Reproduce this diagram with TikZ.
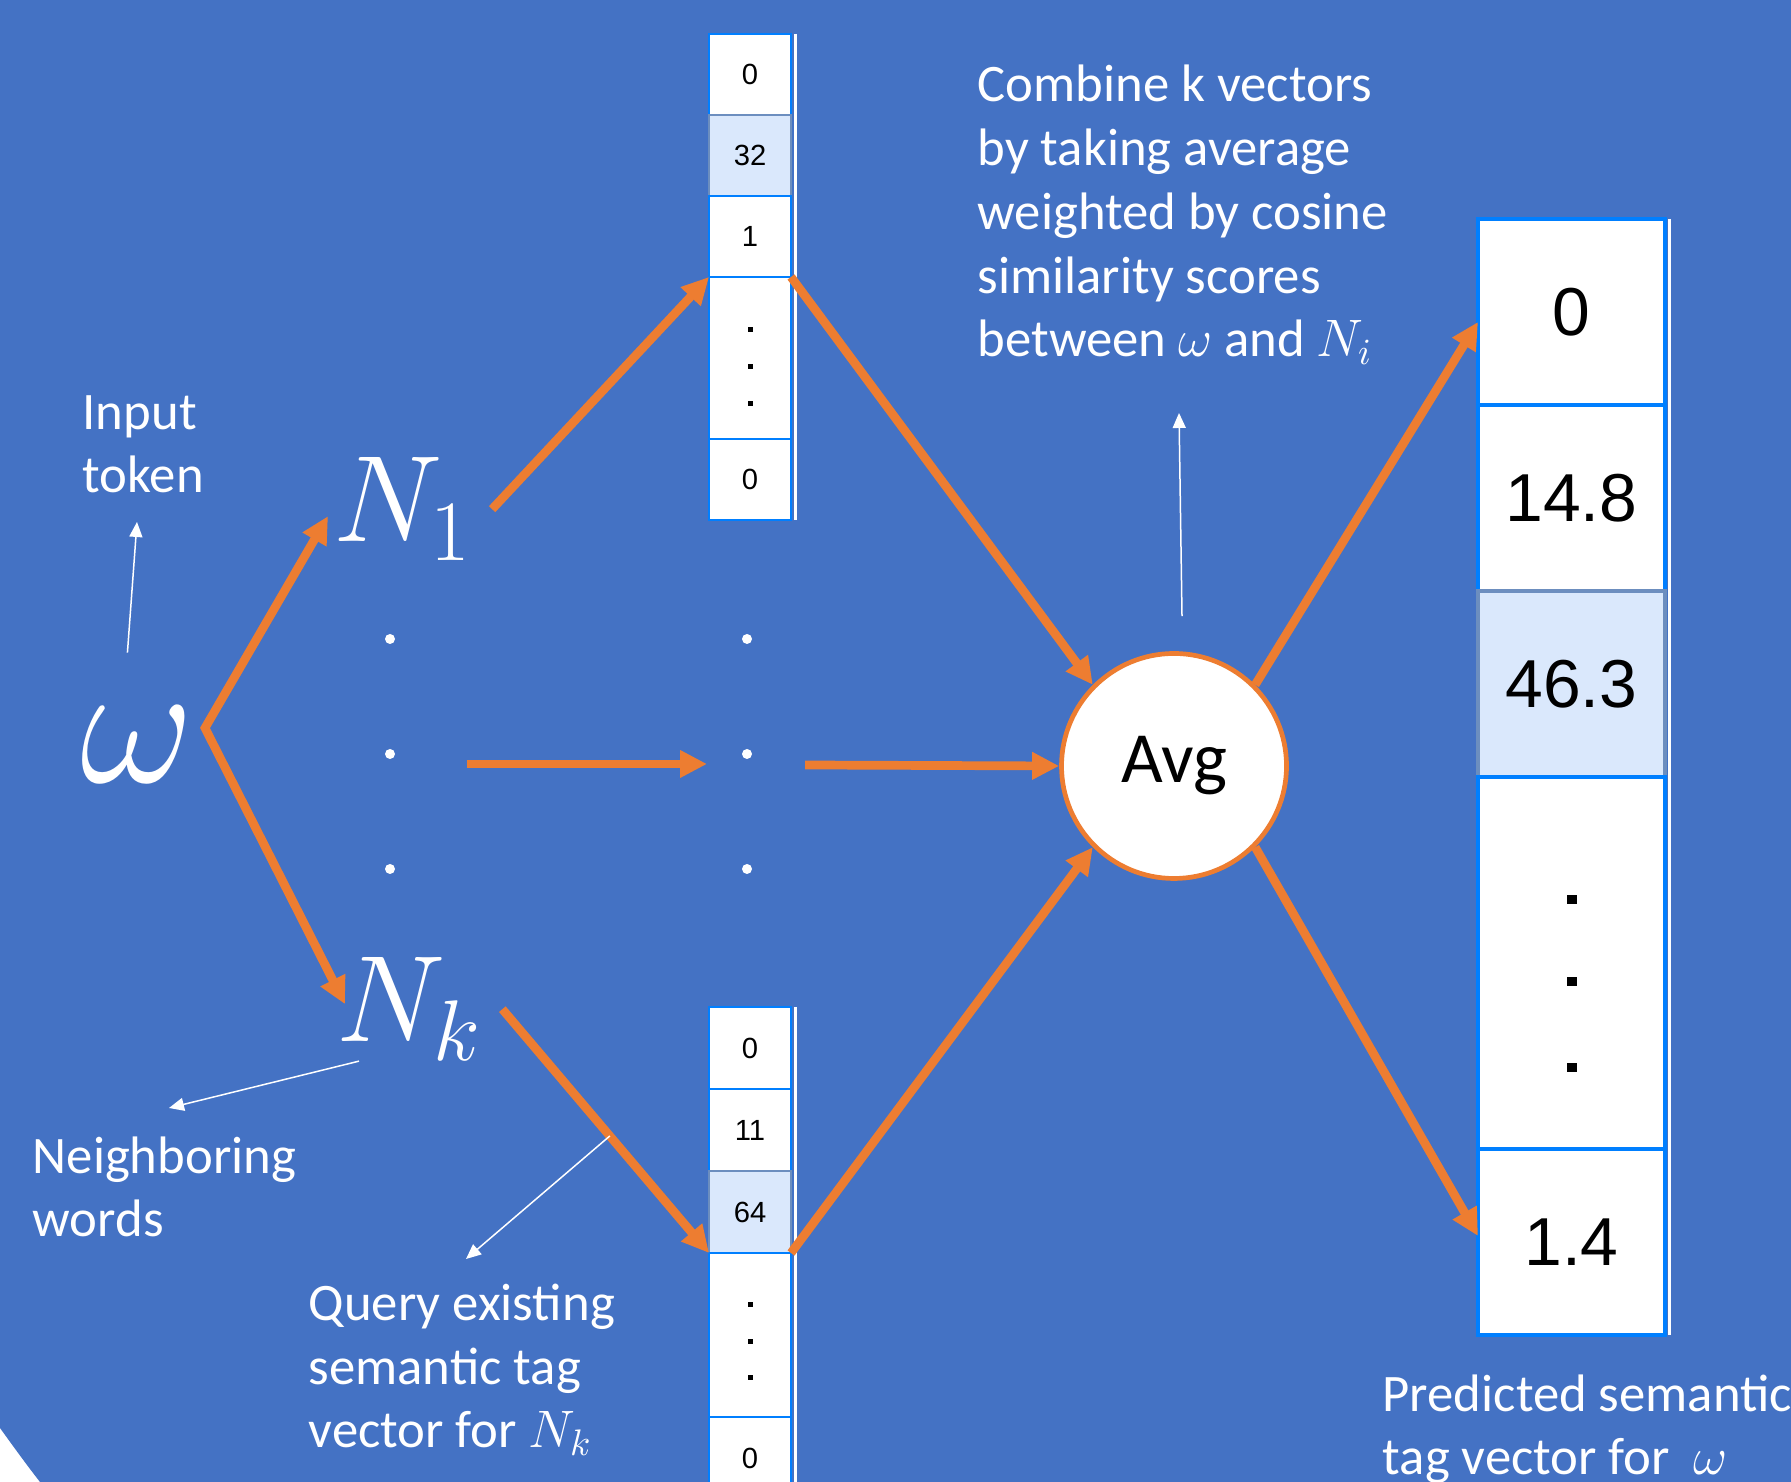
\RequirePackage{fix-cm}
\documentclass[tikz,border=0pt]{standalone}
\usepackage{fontspec}
\setmainfont{Carlito}
\newfontfamily\arialfont{Liberation Sans}
\usepackage{tikz}
\usetikzlibrary{arrows.meta}
\usetikzlibrary{positioning}
\definecolor{slide}{HTML}{4472C4}
\definecolor{accent}{HTML}{ED7D31}
\definecolor{cellline}{HTML}{007FFF}
\definecolor{hotfill}{HTML}{DAE8FC}
\definecolor{hotline}{HTML}{6C8EBF}
\tikzset{
    cell/.style={draw=cellline, line width=.25mm, fill=white, outer sep=0pt, inner sep=0pt, minimum width=8.2mm, minimum height=8.1mm, font=\arialfont\fontsize{8.3}{10}\selectfont},
    bigcell/.style={cell, line width=.35mm, minimum width=18.7mm, minimum height=18.6mm, font=\arialfont\fontsize{19.3}{22}\selectfont},
    hot/.style={fill=hotfill, draw=hotline},
    flow/.style={draw=accent, line width=.87mm, -{Triangle[length=2.7mm, width=2.6mm]}},
    note/.style={draw=white, line width=.15mm, -{Triangle[length=1.5mm, width=1.3mm]}},
    txt/.style={white, inner sep=0pt, anchor=base west, align=left, font=\fontsize{15}{18.2}\selectfont},
    sym/.style={white, inner sep=0pt, anchor=base west},
}

\begin{document}
\begin{tikzpicture}
    \useasboundingbox(0,0)rectangle(17.91,14.82);
    \clip(0,0)rectangle(17.91,14.82);
    \fill[white](0,0)rectangle(17.91,14.82);
    \fill[slide](0,.54)--(0,14.82)--(17.91,14.82)--(17.91,0)--(.40,0) .. controls (.26,.18) and (.13,.36) .. (0,.54)--cycle;

    % tag vector of N_1
    \node[cell](a1) at (7.50,14.075){0};
    \node[cell, hot, below=0pt of a1](a2){32};
    \node[cell, below=0pt of a2](a3){1};
    \node[cell, below=0pt of a3, minimum height=16.2mm](a4){};
    \node[cell, below=0pt of a4](a5){0};
    \foreach \d in {.28,-.09,-.46} \fill([shift={(-.025,\d-.025)}]a4.center)rectangle++(.05,.05);
    \draw[white, line width=.25mm]([xshift=.45mm]a1.north east)--([xshift=.45mm]a5.south east);

    % tag vector of N_k
    \node[cell, minimum height=8.2mm](b1) at (7.50,4.34){0};
    \node[cell, minimum height=8.2mm, below=0pt of b1](b2){11};
    \node[cell, hot, minimum height=8.2mm, below=0pt of b2](b3){64};
    \node[cell, below=0pt of b3, minimum height=16.4mm](b4){};
    \node[cell, minimum height=8.2mm, below=0pt of b4](b5){0};
    \foreach \d in {.30,-.07,-.43} \fill([shift={(-.025,\d-.025)}]b4.center)rectangle++(.05,.05);
    \draw[white, line width=.25mm]([xshift=.45mm]b1.north east)--([xshift=.45mm]b5.south east);

    % predicted vector
    \node[bigcell](c1) at (15.715,11.70){0};
    \node[bigcell, below=0pt of c1](c2){14.8};
    \node[bigcell, hot, below=0pt of c2](c3){46.3};
    \node[bigcell, below=0pt of c3, minimum height=37.2mm](c4){};
    \node[bigcell, below=0pt of c4](c5){1.4};
    \foreach \d in {.63,-.19,-1.05} \fill([shift={(-.05,\d-.045)}]c4.center)rectangle++(.1,.09);
    \draw[white, line width=.35mm]([xshift=.45mm]c1.north east)--([xshift=.45mm]c5.south east);

    \node[circle, draw=accent, line width=.47mm, fill=white, minimum size=22.5mm, inner sep=0pt, font=\fontsize{20.5}{24}\selectfont](avg) at (11.74,7.16){Avg};

    \node[sym, font=\fontsize{50}{54}\selectfont](w) at (.80,6.99){$\omega$};
    \node[sym, font=\fontsize{35}{40}\selectfont](n1) at (3.33,9.40){$N_1$};
    \node[sym, font=\fontsize{35}{40}\selectfont](nk) at (3.36,4.40){$N_k$};

    \foreach \y in {8.43,7.28,6.13}{
        \fill[white](3.90,\y)circle(.05);
        \fill[white](7.47,\y)circle(.05);
    }

    \coordinate(fork) at (2.05,7.54);
    \coordinate(midA) at (4.67,7.18);
    \coordinate(midB) at (7.07,7.18);
    \coordinate(midC) at (8.05,7.17);

    \draw[flow, {Triangle[length=2.7mm, width=2.6mm]}-{Triangle[length=2.7mm, width=2.6mm]}]([xshift=-.5mm, yshift=-.7mm]n1.west)--(fork)--([xshift=.9mm, yshift=.5mm]nk.west);
    \draw[flow]([xshift=2mm]n1.east)--(a4.north west);
    \draw[flow]([xshift=2mm]nk.east)--coordinate[pos=.52](qtail)(b3.south west);
    \draw[flow](a4.north east)--(avg.135);
    \draw[flow](b3.south east)--(avg.225);
    \draw[flow](midA)--(midB);
    \draw[flow](midC)--(avg.west);
    \draw[flow](avg.45)--([yshift=-1mm]c1.west);
    \draw[flow](avg.315)--([yshift=.6mm]c5.west);

    \node[txt](inp) at (.82,9.89){Input\\token};
    \node[txt](comb) at (9.77,11.25){Combine k vectors\\by taking average\\weighted by cosine\\similarity scores\\between $\omega$ and $N_i$};
    \node[txt](nbr) at (.32,2.45){Neighboring\\words};
    \node[txt](qry) at (3.08,.34){Query existing\\semantic tag\\vector for $N_k$};
    \node[txt](pred) at (13.82,.07){Predicted semantic\\tag vector for\ \ $\omega$};

    \coordinate(tokhead) at (1.37,9.60);
    \coordinate(nbrhead) at (1.69,3.74);
    \coordinate(qryhead) at (4.66,2.23);
    \coordinate(combhead) at (11.79,10.69);
    \draw[note]([xshift=-1mm, yshift=5.4mm]w.north)--(tokhead);
    \draw[note]([xshift=2.3mm]nk.south west)--(nbrhead);
    \draw[note](qtail)--(qryhead);
    \draw[note]([xshift=.8mm, yshift=3.5mm]avg.north)--(combhead);
\end{tikzpicture}
\end{document}
